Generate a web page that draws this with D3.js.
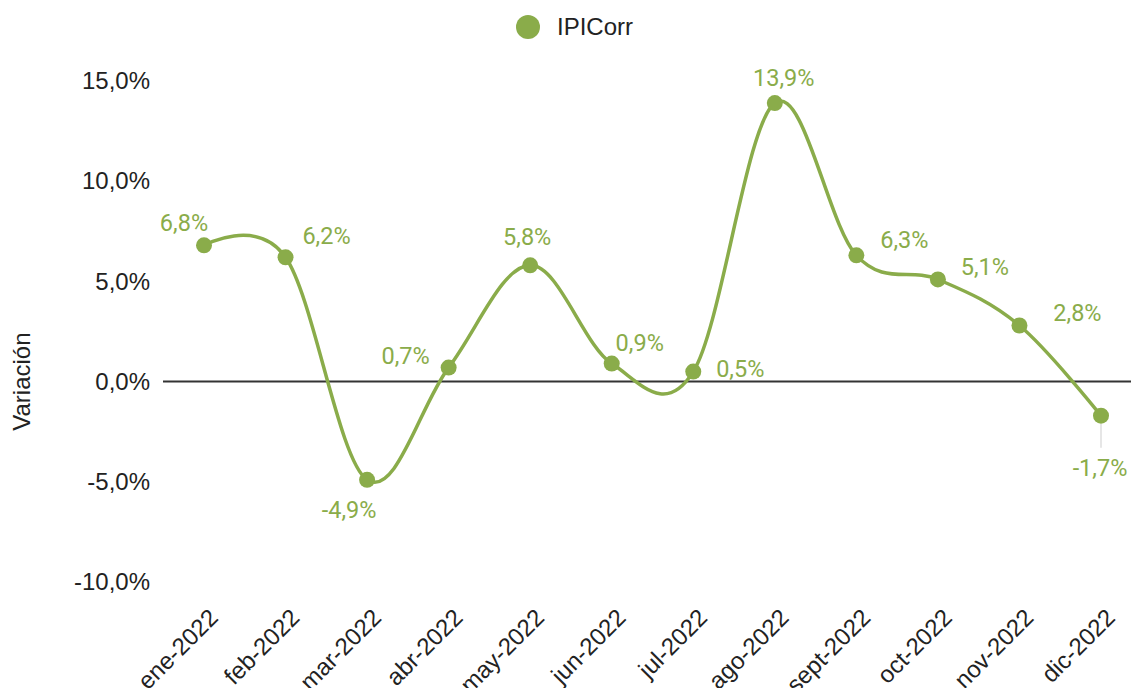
<!DOCTYPE html>
<html>
<head>
<meta charset="utf-8">
<script src="https://cdn.jsdelivr.net/npm/d3@7"></script>
<style>
  body { margin: 0; background: #fff; }
  text { font-family: "Liberation Sans", Arial, sans-serif; }
  text.lbl { font-family: Roboto, sans-serif; }
</style>
</head>
<body>
<svg id="drawing_region"></svg>
<script>
// data
const categories = ['ene-2022','feb-2022','mar-2022','abr-2022','may-2022','jun-2022',
                    'jul-2022','ago-2022','sept-2022','oct-2022','nov-2022','dic-2022'];
const ipiCorr = [6.8, 6.2, -4.9, 0.7, 5.8, 0.9, 0.5, 13.9, 6.3, 5.1, 2.8, -1.7];
const yTicks = [-10, -5, 0, 5, 10, 15];
const seriesName = 'IPICorr';

// label placement (offset of label centre from its point)
const labelOffsets = [[-20,-23],[41,-22],[-18,30],[-43,-12],[-3,-29],[28,-21],
                      [47,-3],[9,-25],[48,-16],[47,-13],[58,-13],[-1,52]];

const W = 1131, H = 688;
const green = '#8aac4a';
const fmt = v => d3.format('.1f')(v).replace('.', ',').replace('\u2212', '-') + '%';

const svg = d3.select('#drawing_region').attr('width', W).attr('height', H);

const x = d3.scalePoint().domain(categories).range([204, 1101]);
const y = d3.scaleLinear().domain([-10, 15]).range([582, 81]);

// y axis labels
const yAxis = svg.append('g')
    .attr('transform', 'translate(150,0)')
    .call(d3.axisLeft(y).tickValues(yTicks).tickSize(0).tickPadding(0).tickFormat(d => fmt(d)));
yAxis.select('.domain').remove();
yAxis.selectAll('text').attr('font-size', 24).attr('fill', '#222')
    .attr('font-family', null);

// zero line
svg.append('line')
    .attr('x1', 163).attr('x2', W)
    .attr('y1', y(0)).attr('y2', y(0))
    .attr('stroke', '#333').attr('stroke-width', 2);

// y title
svg.append('text')
    .attr('transform', `translate(30,${y(0)}) rotate(-90)`)
    .attr('text-anchor', 'middle')
    .attr('font-size', 24).attr('fill', '#222')
    .text('Variación');

// x axis labels
const xAxis = svg.append('g')
    .attr('transform', 'translate(0,600)')
    .call(d3.axisBottom(x).tickSize(0).tickPadding(0));
xAxis.select('.domain').remove();
xAxis.selectAll('text')
    .attr('font-size', 24).attr('fill', '#222')
    .attr('font-family', null)
    .attr('text-anchor', 'end')
    .attr('dy', '0')
    .attr('transform', 'translate(15,19) rotate(-45)');

// line
const line = d3.line()
    .x((d, i) => x(categories[i]))
    .y(d => y(d))
    .curve(d3.curveCardinal.tension(-0.05));

svg.append('path')
    .datum(ipiCorr)
    .attr('d', line)
    .attr('fill', 'none')
    .attr('stroke', green)
    .attr('stroke-width', 3.5);

// connector for displaced label
ipiCorr.forEach((v, i) => {
    const off = labelOffsets[i];
    if (Math.abs(off[1]) > 40) {
        svg.append('line')
            .attr('x1', x(categories[i])).attr('x2', x(categories[i]))
            .attr('y1', y(v) + 8).attr('y2', y(v) + off[1] - 20)
            .attr('stroke', '#e6e6e6').attr('stroke-width', 2);
    }
});

// points
svg.selectAll('circle.pt')
    .data(ipiCorr)
    .enter()
    .append('circle')
    .attr('class', 'pt')
    .attr('cx', (d, i) => x(categories[i]))
    .attr('cy', d => y(d))
    .attr('r', 8)
    .attr('fill', green);

// data labels
svg.selectAll('text.lbl')
    .data(ipiCorr)
    .enter()
    .append('text')
    .attr('class', 'lbl')
    .attr('x', (d, i) => x(categories[i]) + labelOffsets[i][0])
    .attr('y', (d, i) => y(d) + labelOffsets[i][1])
    .attr('dy', '0.35em')
    .attr('text-anchor', 'middle')
    .attr('font-size', 23.5)
    .attr('fill', green)
    .text(d => fmt(d));

// legend
const legend = svg.append('g');
legend.append('circle').attr('cx', 528).attr('cy', 27).attr('r', 12).attr('fill', green);
legend.append('text')
    .attr('x', 557).attr('y', 27).attr('dy', '0.35em')
    .attr('font-size', 24).attr('fill', '#222')
    .text(seriesName);
</script>
</body>
</html>
